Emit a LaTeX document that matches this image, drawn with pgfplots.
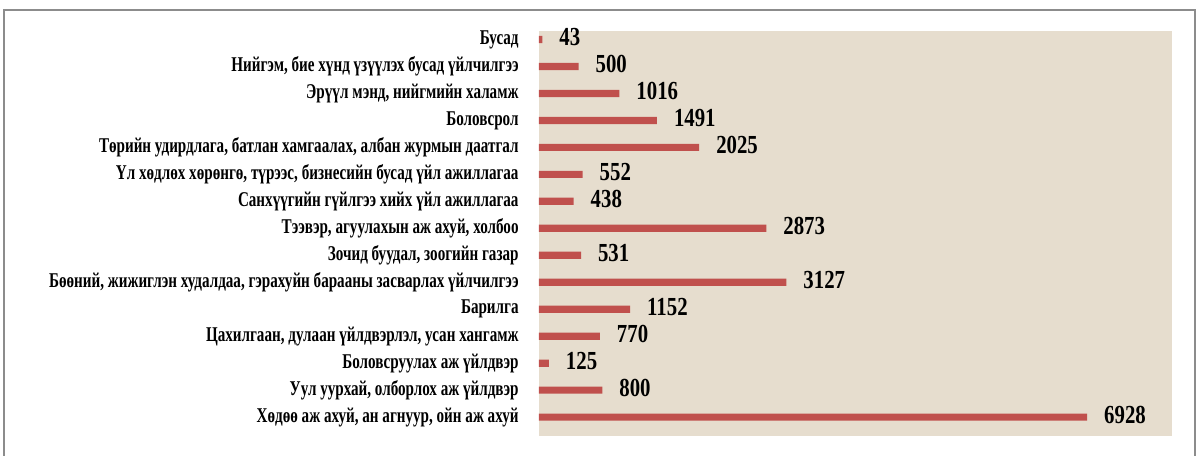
\documentclass[border=0pt]{standalone}
\usepackage{fontspec}
\setmainfont{Liberation Serif}
\newfontfamily\labfont[FakeStretch=0.72]{Liberation Serif}
\newfontfamily\valfont[FakeStretch=0.8]{Liberation Serif}
\usepackage{pgfplots}
\pgfplotsset{compat=1.18}
\definecolor{barred}{HTML}{C0504D}
\definecolor{beige}{HTML}{E6DDCE}
\definecolor{framegray}{HTML}{8C8C8C}
\begin{document}
\begin{tikzpicture}
\useasboundingbox (0,0) rectangle (599.5pt,227.5pt);
\draw[framegray, line width=1pt] (2pt,-2pt) -- (2pt,222.7pt) -- (597.5pt,222.7pt) -- (597.5pt,-2pt);
\begin{axis}[
  at={(269.5pt,9.5pt)}, anchor=south west,
  scale only axis, width=316.5pt, height=202.5pt,
  xbar, bar width=3.6pt,
  xmin=0, xmax=8000, ymin=-0.70, ymax=14.315,
  axis line style={draw=none}, axis background/.style={fill=beige},
  xtick=\empty, ytick={0,...,14}, major tick length=0pt,
  yticklabel style={anchor=east, font=\labfont\bfseries\fontsize{10.5}{12}\selectfont, inner sep=0pt, xshift=-10pt},
  yticklabels={
    {Хөдөө аж ахуй, ан агнуур, ойн аж ахуй},
    {Уул уурхай, олборлох аж үйлдвэр},
    {Боловсруулах аж үйлдвэр},
    {Цахилгаан, дулаан үйлдвэрлэл, усан хангамж},
    {Барилга},
    {Бөөний, жижиглэн худалдаа, гэрахуйн барааны засварлах үйлчилгээ},
    {Зочид буудал, зоогийн газар},
    {Тээвэр, агуулахын аж ахуй, холбоо},
    {Санхүүгийн гүйлгээ хийх үйл ажиллагаа},
    {Үл хөдлөх хөрөнгө, түрээс, бизнесийн бусад үйл ажиллагаа},
    {Төрийн удирдлага, батлан хамгаалах, албан журмын даатгал},
    {Боловсрол},
    {Эрүүл мэнд, нийгмийн халамж},
    {Нийгэм, бие хүнд үзүүлэх бусад үйлчилгээ},
    {Бусад}},
  nodes near coords={\pgfmathprintnumber[1000 sep={},assume math mode=true]{\pgfplotspointmeta}},
  every node near coord/.append style={font=\valfont\bfseries\fontsize{13}{14}\selectfont, anchor=west, xshift=5pt, yshift=1pt, text=black},
  clip=false,
]
\addplot[fill=barred, draw=none] coordinates {
(6928,0) (800,1) (125,2) (770,3) (1152,4) (3127,5) (531,6) (2873,7)
(438,8) (552,9) (2025,10) (1491,11) (1016,12) (500,13) (43,14)};
\end{axis}
\end{tikzpicture}
\end{document}
